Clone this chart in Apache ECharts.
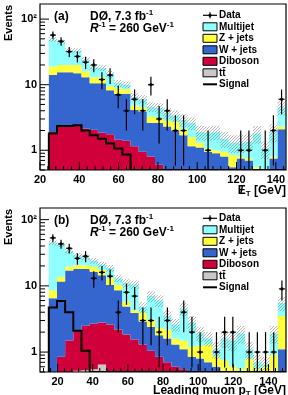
<!DOCTYPE html>
<html>
<head>
<meta charset="utf-8">
<script src="https://cdn.jsdelivr.net/npm/echarts@6/dist/echarts.min.js"></script>
<style>
  html, body { margin: 0; padding: 0; background: #fff; }
  #chart { width: 288px; height: 395px; }
</style>
</head>
<body>
<div id="chart"></div>
<script>
// ---- panel (a): missing ET, 29 bins from 24.5 to 145 GeV ----
const A_TTBAR = [0.10,0.15,0.20,0.25,0.25,0.25,0.25,0.20,0.20,0.20,0.15,0.15,0.10,0.10,0.10,0.08,0.08,0.07,0.06,0.06,0.05,0.05,0.05,0.04,0.04,0.03,0.03,0.03,0.03];
const A_DIBOSON = [1.80,2.15,2.20,2.15,1.90,1.80,1.60,1.55,1.25,1.20,1.00,0.80,0.70,0.50,0.40,0.37,0.32,0.28,0.24,0.22,0.20,0.17,0.15,0.14,0.11,0.09,0.07,0.07,0.07];
const A_WJETS = [12.1,13.2,13.1,12.6,10.85,8.45,8.65,6.45,5.85,5.9,2.95,2.95,1.8,2.0,1.8,1.55,1.3,0.8,0.8,0.67,0.65,0.58,0.35,0.57,0.55,0.38,0.35,0.65,2.0];
const A_ZJETS = [5,4.5,4.5,5,3,2.5,2.5,1.3,1.5,1.2,0.7,0.6,0.7,0.5,0.5,0.7,0.4,0.45,0.2,0.1,0.1,0.15,0.3,0.05,0.05,0.05,0.05,0.05,0.2];
const A_MULTIJET = [30,25,13,13,8,5.5,5,5,1.7,1.5,1.7,1.5,1.3,1.3,0.9,0.7,0.8,1.0,0.6,0.8,0.9,0.55,0.45,0.5,0.6,1.25,0.55,1.1,2.2];
const A_DATA = [57,46,32,27,22,20,12,14,7,4,6,4,10,3,4,2,2,0,0,1,0,0,0,1,1,0,1,2,6];
const A_SIGNAL = [1.8,2.35,2.35,2.4,2.0,1.7,1.5,1.27,1.06,0.86,0.45,0.35,0.25,0.2,0.15,0.12,0.1,0.08,0.06,0.05,0.04,0.03,0.03,0.02,0.02,0.02,0.01,0.01,0.01];
const A_SYST = [0.08,0.08,0.09,0.09,0.10,0.10,0.10,0.12,0.12,0.12,0.15,0.15,0.17,0.18,0.20,0.20,0.22,0.22,0.25,0.25,0.25,0.28,0.30,0.30,0.30,0.30,0.30,0.30,0.25];

// ---- panel (b): leading muon pT, 29 bins from 15 to 150 GeV ----
const B_TTBAR = [0.30,0.35,0.42,0.52,0.53,0.55,0.65,0.45,0.40,0.35,0.30,0.25,0.20,0.20,0.15,0.13,0.12,0.10,0.09,0.08,0.07,0.06,0.05,0.05,0.04,0.03,0.03,0.03,0.03];
const B_DIBOSON = [0.15,0.50,1.08,1.58,1.97,2.15,2.15,2.15,1.80,1.50,1.25,1.05,0.85,0.65,0.55,0.47,0.43,0.40,0.36,0.32,0.28,0.24,0.25,0.20,0.21,0.17,0.17,0.17,0.17];
const B_WJETS = [6.05,10.75,15.5,15.9,15.5,13.6,11.7,7.7,6.4,3.05,2.35,1.6,1.35,0.95,0.9,0.7,0.55,0.35,0.35,0.3,0.25,0.2,0.2,0.2,0.2,0.2,0.2,0.25,0.9];
const B_ZJETS = [2.1,2.1,2.5,2.5,2.5,3.1,2.8,2.7,1.7,0.9,0.4,1.0,0.7,0.5,0.6,0.3,0.4,0.35,0.45,0.6,0.25,0.25,0.1,0.1,0.35,0.15,0.2,0.45,2.4];
const B_MULTIJET = [36.4,28.3,14.5,8.5,6.5,4.6,3.7,5.5,2.7,5.2,6.2,0.9,3.9,3.7,1.3,1.0,3.0,1.6,0.65,0.3,0.25,0.85,0.9,1.35,0.3,0.15,0.05,1.0,2.0];
const B_DATA = [53,43,37,26,28,13,16,14,4,8,7,3,3,2,3,0,4,2,1,0,1,2,2,0,1,1,1,1,9];
const B_SIGNAL = [4.7,5.9,4.0,2.1,1.05,0.4,0.25,0.15,0.1,0.08,0.06,0.05,0.04,0.03,0.02,0.02,0.02,0.01,0.01,0.01,0.01,0.01,0.01,0.01,0.01,0.01,0.01,0.01,0.01];
const B_SYST = [0.08,0.08,0.09,0.09,0.10,0.10,0.10,0.12,0.12,0.14,0.15,0.18,0.18,0.20,0.20,0.22,0.22,0.25,0.25,0.25,0.28,0.28,0.30,0.30,0.30,0.30,0.30,0.30,0.25];

const LEGEND_LABELS = ["Data", "Multijet", "Z + jets", "W + jets", "Diboson", "tt\u0304", "Signal"];
const Y_TICKS = [0.5,0.6,0.7,0.8,0.9,1,2,3,4,5,6,7,8,9,10,20,30,40,50,60,70,80,90,100];

const FF = "'Liberation Sans', Arial, Helvetica, sans-serif";
const font = (size, style) => `${style || "bold"} ${size}px ${FF}`;
const COLORS = {
  ttbar: "#c8c8c8",
  diboson: "#d0003a",
  wjets: "#3566d0",
  zjets: "#ffff3c",
  multijet: "#90ffff",
};

const PANELS = [
  {
    tag: "(a)", xMin: 20, xMax: 145, xStep: 20, histLo: 24.5, histHi: 145,
    yMin: 0.5, yMax: 170, box: { x: 40, y: 4, w: 246, h: 166 },
    comps: [A_TTBAR, A_DIBOSON, A_WJETS, A_ZJETS, A_MULTIJET],
    data: A_DATA, signal: A_SIGNAL, syst: A_SYST,
    textY: 17, legendY: 15.3, titleY: 191, minorFrom: 20,
  },
  {
    tag: "(b)", xMin: 10, xMax: 150, xStep: 10, histLo: 15, histHi: 150,
    yMin: 0.5, yMax: 150, box: { x: 40, y: 208, w: 246, h: 164 },
    comps: [B_TTBAR, B_DIBOSON, B_WJETS, B_ZJETS, B_MULTIJET],
    data: B_DATA, signal: B_SIGNAL, syst: B_SYST,
    textY: 221, legendY: 218.3, titleY: 391, minorFrom: 12,
  },
];
const COMP_COLORS = [COLORS.ttbar, COLORS.diboson, COLORS.wjets, COLORS.zjets, COLORS.multijet];

function binEdges(lo, hi, n) {
  const w = (hi - lo) / n;
  const e = [];
  for (let i = 0; i <= n; i++) e.push(lo + i * w);
  return e;
}

// fine grey hatch for the MC uncertainty band
function hatchCanvas() {
  const c = document.createElement("canvas");
  c.width = 3; c.height = 3;
  const g = c.getContext("2d");
  g.fillStyle = "rgba(120,120,120,0.55)";
  g.fillRect(0, 2, 1, 1);
  g.fillRect(1, 1, 1, 1);
  g.fillRect(2, 0, 1, 1);
  return c;
}
const HATCH = { image: hatchCanvas(), repeat: "repeat" };

const series = [];
const graphics = [];
const measure = document.createElement("canvas").getContext("2d");

function textRun(x, y, pieces, align) {
  const widths = pieces.map((p) => { measure.font = p[1]; return measure.measureText(p[0]).width; });
  const total = widths.reduce((a, b) => a + b, 0);
  let cx = align === "right" ? x - total : x;
  const pos = [];
  pieces.forEach((p, i) => {
    pos.push(cx);
    graphics.push({
      type: "text", x: cx, y: y + (p[2] || 0), z: 100,
      style: { text: p[0], font: p[1], fill: "#000", align: "left", verticalAlign: "middle" },
    });
    cx += widths[i];
  });
  return { pos, widths };
}

PANELS.forEach((P, p) => {
  const n = P.data.length;
  const edges = binEdges(P.histLo, P.histHi, n);
  const clamp = (v) => Math.min(Math.max(v, P.yMin), P.yMax);

  // cumulative stack
  const cum = [];
  P.comps.forEach((c, k) => {
    cum.push(c.map((v, i) => v + (k ? cum[k - 1][i] : 0)));
  });
  const total = cum[cum.length - 1];

  function band(lower, upper, fill, z) {
    series.push({
      type: "custom", xAxisIndex: p, yAxisIndex: p, clip: true, silent: true, z,
      data: [[edges[0], 1]],
      renderItem: (params, api) => {
        const pts = [];
        for (let i = 0; i < n; i++) {
          const v = clamp(upper[i]);
          pts.push(api.coord([edges[i], v]), api.coord([edges[i + 1], v]));
        }
        for (let i = n - 1; i >= 0; i--) {
          const v = lower ? clamp(lower[i]) : P.yMin;
          pts.push(api.coord([edges[i + 1], v]), api.coord([edges[i], v]));
        }
        return { type: "polygon", shape: { points: pts }, style: { fill } };
      },
    });
  }

  cum.forEach((c, k) => band(k ? cum[k - 1] : null, c, COMP_COLORS[k], 2));

  // MC uncertainty hatch
  band(total.map((v, i) => v * (1 - P.syst[i])), total.map((v, i) => v * (1 + P.syst[i])), HATCH, 3);

  // signal outline
  series.push({
    type: "custom", xAxisIndex: p, yAxisIndex: p, clip: true, silent: true, z: 4,
    data: [[edges[0], 1]],
    renderItem: (params, api) => {
      const pts = [api.coord([edges[0], P.yMin])];
      for (let i = 0; i < n; i++) {
        const v = clamp(P.signal[i]);
        pts.push(api.coord([edges[i], v]), api.coord([edges[i + 1], v]));
      }
      pts.push(api.coord([edges[n], P.yMin]));
      return { type: "polyline", shape: { points: pts }, style: { stroke: "#000", lineWidth: 2, fill: null } };
    },
  });

  // data points with sqrt(N) errors
  const pts = [];
  P.data.forEach((v, i) => { if (v > 0) pts.push([(edges[i] + edges[i + 1]) / 2, v]); });
  series.push({
    type: "custom", xAxisIndex: p, yAxisIndex: p, clip: true, silent: true, z: 5,
    data: pts,
    renderItem: (params, api) => {
      const x = api.value(0), v = api.value(1), e = Math.sqrt(v);
      const c = api.coord([x, v]);
      const t = api.coord([x, clamp(v + e)]);
      const b = api.coord([x, clamp(v - e)]);
      const s = { stroke: "#000", lineWidth: 1.2 };
      return {
        type: "group",
        children: [
          { type: "line", shape: { x1: c[0], y1: t[1], x2: c[0], y2: b[1] }, style: s },
          { type: "line", shape: { x1: c[0] - 3, y1: c[1], x2: c[0] + 3, y2: c[1] }, style: s },
          { type: "circle", shape: { cx: c[0], cy: c[1], r: 1.6 }, style: { fill: "#000" } },
        ],
      };
    },
  });

  // ticks drawn inside the frame
  const ticks = [];
  Y_TICKS.filter((v) => v >= P.yMin && v <= P.yMax).forEach((v) => {
    const major = Math.abs(Math.log10(v) - Math.round(Math.log10(v))) < 1e-9;
    ticks.push([P.xMin, v, major ? 9 : 5, 0]);
  });
  for (let v = P.minorFrom; v < P.xMax; v += 4) {
    ticks.push([v, P.yMin, 0, v % 20 === 0 ? -8 : -4]);
  }
  series.push({
    type: "custom", xAxisIndex: p, yAxisIndex: p, clip: false, silent: true, z: 20,
    data: ticks,
    renderItem: (params, api) => {
      const c = api.coord([api.value(0), api.value(1)]);
      return {
        type: "line",
        shape: { x1: c[0], y1: c[1], x2: c[0] + api.value(2), y2: c[1] + api.value(3) },
        style: { stroke: "#000", lineWidth: 1 },
      };
    },
  });

  // frame
  graphics.push({
    type: "rect", z: 100, silent: true,
    shape: { x: P.box.x, y: P.box.y, width: P.box.w, height: P.box.h },
    style: { fill: null, stroke: "#000", lineWidth: 1.2 },
  });

  // y title
  graphics.push({
    type: "text", x: 9, y: P.box.y + 1, rotation: Math.PI / 2, z: 100,
    style: { text: "Events", font: font(11), fill: "#000", align: "right", verticalAlign: "middle" },
  });

  // annotations
  textRun(54, P.textY, [[P.tag, font(12)]]);
  textRun(90, P.textY, [["D\u00d8, 7.3 fb", font(12)], ["-1", font(8), -4]]);
  textRun(90, P.textY + 12, [
    ["R", font(12, "italic bold")], ["-1", font(8), -4],
    [" = 260 GeV", font(12)], ["-1", font(8), -4],
  ]);

  // x title
  if (p === 0) {
    const r = textRun(286, P.titleY, [["E", font(12)], ["T", font(8), 3], [" [GeV]", font(12)]], "right");
    graphics.push({
      type: "text", x: r.pos[0] + r.widths[0] / 2, y: P.titleY, z: 100,
      style: { text: "/", font: font(12), fill: "#000", align: "center", verticalAlign: "middle" },
    });
  } else {
    textRun(286, P.titleY, [["Leading muon p", font(12)], ["T", font(8), 3], [" [GeV]", font(12)]], "right");
  }

  // legend
  LEGEND_LABELS.forEach((label, i) => {
    const y = P.legendY + i * 11.5;
    const x0 = 203, x1 = 217;
    if (i === 0) {
      graphics.push(
        { type: "line", z: 100, shape: { x1: x0, y1: y, x2: x1, y2: y }, style: { stroke: "#000", lineWidth: 1.2 } },
        { type: "line", z: 100, shape: { x1: 210, y1: y - 3, x2: 210, y2: y + 3 }, style: { stroke: "#000", lineWidth: 1.2 } },
        { type: "circle", z: 100, shape: { cx: 210, cy: y, r: 1.6 }, style: { fill: "#000" } }
      );
    } else if (i === 6) {
      graphics.push({ type: "line", z: 100, shape: { x1: x0, y1: y, x2: x1, y2: y }, style: { stroke: "#000", lineWidth: 2 } });
    } else {
      const col = [COLORS.multijet, COLORS.zjets, COLORS.wjets, COLORS.diboson, COLORS.ttbar][i - 1];
      graphics.push({
        type: "rect", z: 100, shape: { x: x0, y: y - 4, width: x1 - x0, height: 8 },
        style: { fill: col, stroke: "#000", lineWidth: 1 },
      });
    }
    graphics.push({
      type: "text", x: 219, y, z: 100,
      style: { text: label, font: font(10), fill: "#000", align: "left", verticalAlign: "middle" },
    });
  });
});

const axisLabelStyle = {
  fontFamily: FF, fontWeight: "bold", fontSize: 11, color: "#000",
};

const chart = echarts.init(document.getElementById("chart"), null, { renderer: "canvas" });
chart.setOption({
  animation: false,
  backgroundColor: "#fff",
  grid: PANELS.map((P) => ({ left: P.box.x, top: P.box.y, width: P.box.w, height: P.box.h, show: false })),
  xAxis: PANELS.map((P, p) => ({
    gridIndex: p, type: "value", min: P.xMin, max: P.xMax, interval: P.xStep,
    axisLine: { show: false }, axisTick: { show: false }, splitLine: { show: false },
    axisLabel: {
      ...axisLabelStyle, margin: 4, interval: 0, showMinLabel: true, showMaxLabel: false,
      formatter: (v) => (v % 20 === 0 && v < P.xMax ? String(v) : ""),
    },
  })),
  yAxis: PANELS.map((P, p) => ({
    gridIndex: p, type: "log", logBase: 10, min: P.yMin, max: P.yMax,
    axisLine: { show: false }, axisTick: { show: false }, splitLine: { show: false },
    axisLabel: {
      ...axisLabelStyle, margin: 3,
      formatter: (v) => {
        const l = Math.log10(v), r = Math.round(l);
        if (Math.abs(l - r) > 1e-6 || r < 0) return "";
        return r === 0 ? "1" : r === 1 ? "10" : "10\u00b2";
      },
    },
  })),
  series,
  graphic: graphics,
});
</script>
</body>
</html>
